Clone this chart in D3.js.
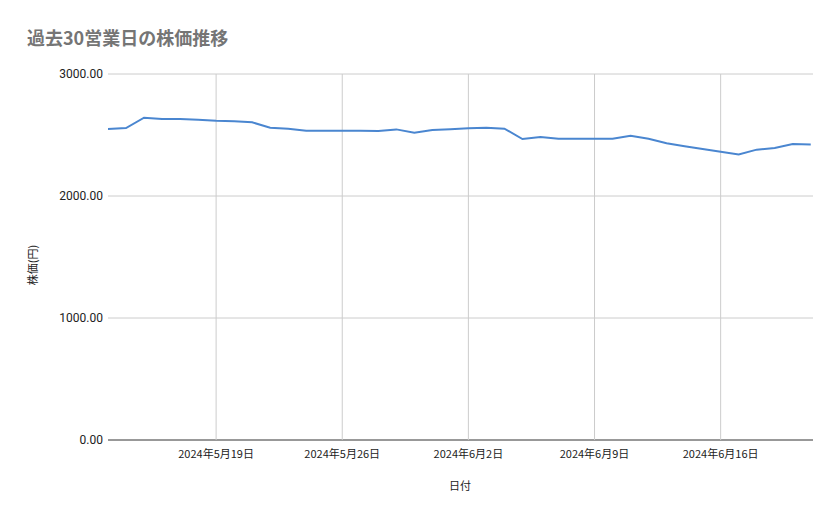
<!DOCTYPE html><html><head><meta charset="utf-8"><script src="https://cdn.jsdelivr.net/npm/d3@7"></script>
<style>body{margin:0;background:#fff;font-family:"Noto Sans CJK JP",Roboto,sans-serif}</style></head><body><svg id="c" width="839" height="519"></svg><script>
const startDate = "2024-05-13";
const prices = [2549,2557,2642,2631,2631,2626,2617,2612,2604,2560,2552,2535,2535,2535,2535,2532,2546,2519,2541,2547,2555,2560,2552,2467,2484,2470,2470,2470,2470,2494,2470,2432,2407,2385,2363,2341,2380,2394,2426,2423];
const yTicks = [0,1000,2000,3000];
const xTickDates = ["2024-05-19","2024-05-26","2024-06-02","2024-06-09","2024-06-16"];
const data = prices.map((v,i)=>{const d=new Date(startDate+"T00:00:00");d.setDate(d.getDate()+i);return {d,v};});
const svg=d3.select("#c");
const L=108,R=813,T=74,B=440;
const x=d3.scaleTime().domain([data[0].d,new Date("2024-06-21T03:00:00")]).range([L,R]);
const y=d3.scaleLinear().domain([0,3000]).range([B,T]);
svg.append("text").attr("x",27).attr("y",45).attr("fill","#757575").attr("font-size",18).attr("font-weight","bold").text("過去30営業日の株価推移");
const xt=xTickDates.map(s=>new Date(s+"T00:00:00"));
svg.selectAll(".gy").data(yTicks).join("line").attr("x1",L).attr("x2",R).attr("y1",d=>y(d)).attr("y2",d=>y(d)).attr("stroke",d=>d===0?"#333":"#ccc");
svg.selectAll(".gx").data(xt).join("line").attr("x1",d=>x(d)).attr("x2",d=>x(d)).attr("y1",T).attr("y2",B).attr("stroke","#ccc");
svg.selectAll(".yl").data(yTicks).join("text").attr("x",L-5).attr("y",d=>y(d)+4).attr("text-anchor","end").attr("font-size",12).attr("fill","#222").attr("font-family","Roboto").text(d=>d3.format(".2f")(d));
svg.selectAll(".xl").data(xt).join("text").attr("x",d=>x(d)).attr("y",458).attr("text-anchor","middle").attr("font-size",11).attr("fill","#222").text(d=>`${d.getFullYear()}年${d.getMonth()+1}月${d.getDate()}日`);
svg.append("path").datum(data).attr("fill","none").attr("stroke","#4a86d0").attr("stroke-width",2).attr("d",d3.line().x(d=>x(d.d)).y(d=>y(d.v)));
svg.append("text").attr("x",460).attr("y",490).attr("text-anchor","middle").attr("font-size",11).attr("fill","#222").text("日付");
svg.append("text").attr("transform","translate(37,265) rotate(-90)").attr("text-anchor","middle").attr("font-size",11).attr("fill","#222").text("株価(円)");
</script></body></html>
